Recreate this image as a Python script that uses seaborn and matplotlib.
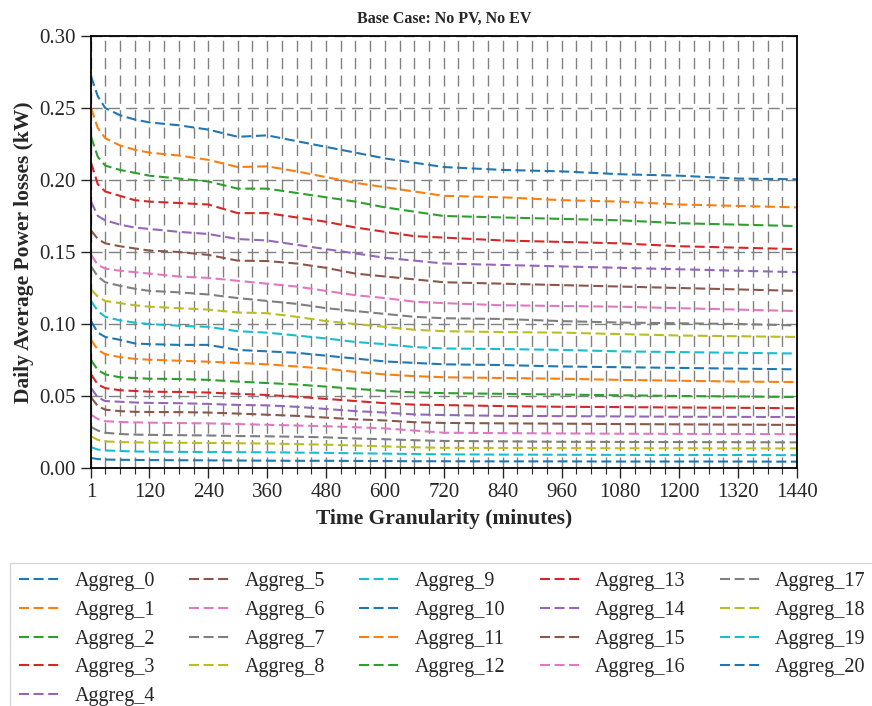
import numpy as np
import pandas as pd
import matplotlib
matplotlib.use("Agg")
import matplotlib.pyplot as plt
from matplotlib.ticker import FixedLocator
from matplotlib.lines import Line2D
import seaborn as sns

# ---- data ----
granularity = [1, 15, 30, 60, 90, 120, 180, 240, 300, 360, 420, 480, 540, 600, 660, 720,
               840, 960, 1080, 1200, 1320, 1440]

aggreg_0 = [0.272, 0.258, 0.250, 0.245, 0.242, 0.240, 0.238, 0.235, 0.230, 0.231, 0.227, 0.223,
            0.219, 0.215, 0.212, 0.209, 0.207, 0.206, 0.204, 0.203, 0.201, 0.2005]
aggreg_1 = [0.250, 0.236, 0.229, 0.224, 0.221, 0.219, 0.217, 0.214, 0.209, 0.2095, 0.206, 0.202,
            0.198, 0.195, 0.192, 0.189, 0.188, 0.186, 0.185, 0.183, 0.182, 0.181]
aggreg_2 = [0.230, 0.216, 0.210, 0.207, 0.205, 0.203, 0.201, 0.199, 0.194, 0.194, 0.191, 0.188,
            0.185, 0.181, 0.178, 0.175, 0.174, 0.173, 0.172, 0.170, 0.169, 0.168]
aggreg_3 = [0.212, 0.197, 0.192, 0.189, 0.186, 0.185, 0.184, 0.183, 0.177, 0.177, 0.174, 0.171,
            0.167, 0.164, 0.161, 0.160, 0.158, 0.157, 0.156, 0.154, 0.153, 0.152]
aggreg_4 = [0.185, 0.175, 0.172, 0.169, 0.167, 0.166, 0.164, 0.1625, 0.159, 0.158, 0.155, 0.152,
            0.149, 0.146, 0.144, 0.142, 0.141, 0.140, 0.139, 0.138, 0.137, 0.136]
aggreg_5 = [0.165, 0.159, 0.156, 0.154, 0.1525, 0.151, 0.150, 0.148, 0.144, 0.1437, 0.142, 0.139,
            0.135, 0.133, 0.131, 0.129, 0.128, 0.127, 0.126, 0.125, 0.124, 0.123]
aggreg_6 = [0.148, 0.141, 0.1385, 0.137, 0.136, 0.135, 0.133, 0.132, 0.130, 0.128, 0.126, 0.123,
            0.120, 0.118, 0.1155, 0.1145, 0.113, 0.1125, 0.112, 0.111, 0.110, 0.109]
aggreg_7 = [0.140, 0.133, 0.129, 0.1265, 0.1245, 0.123, 0.122, 0.1205, 0.118, 0.116, 0.114, 0.111,
            0.109, 0.107, 0.105, 0.104, 0.1035, 0.102, 0.101, 0.1005, 0.100, 0.099]
aggreg_8 = [0.124, 0.119, 0.116, 0.1145, 0.113, 0.112, 0.111, 0.110, 0.108, 0.1075, 0.105, 0.102,
            0.100, 0.098, 0.096, 0.095, 0.0944, 0.094, 0.093, 0.092, 0.0915, 0.091]
aggreg_9 = [0.116, 0.109, 0.105, 0.1025, 0.101, 0.100, 0.0988, 0.098, 0.095, 0.094, 0.092, 0.090,
            0.0875, 0.086, 0.084, 0.083, 0.0826, 0.082, 0.081, 0.0805, 0.080, 0.0795]
aggreg_10 = [0.102, 0.094, 0.091, 0.089, 0.0865, 0.086, 0.0855, 0.0855, 0.082, 0.081, 0.080, 0.078,
             0.076, 0.074, 0.073, 0.072, 0.0715, 0.0705, 0.070, 0.0695, 0.069, 0.0685]
aggreg_11 = [0.089, 0.082, 0.079, 0.077, 0.0758, 0.0752, 0.0745, 0.0738, 0.073, 0.072, 0.0705, 0.069,
             0.0667, 0.065, 0.0638, 0.063, 0.0625, 0.062, 0.0612, 0.0606, 0.060, 0.0597]
aggreg_12 = [0.075, 0.068, 0.065, 0.063, 0.0625, 0.062, 0.0618, 0.0612, 0.060, 0.059, 0.058, 0.0565,
             0.055, 0.0535, 0.0525, 0.052, 0.0515, 0.051, 0.0505, 0.050, 0.0497, 0.0493]
aggreg_13 = [0.065, 0.058, 0.0555, 0.054, 0.0535, 0.053, 0.0528, 0.0524, 0.0515, 0.0507, 0.0495, 0.048,
             0.0465, 0.045, 0.044, 0.0437, 0.043, 0.0425, 0.0423, 0.042, 0.0418, 0.0415]
aggreg_14 = [0.0555, 0.049, 0.0465, 0.046, 0.0455, 0.0452, 0.045, 0.0445, 0.0438, 0.0435, 0.0425, 0.041,
             0.0395, 0.0385, 0.0372, 0.0368, 0.0362, 0.036, 0.0358, 0.0356, 0.0355, 0.0354]
aggreg_15 = [0.049, 0.043, 0.0405, 0.0395, 0.039, 0.0389, 0.0388, 0.0385, 0.0378, 0.037, 0.0362, 0.035,
             0.0338, 0.033, 0.0318, 0.0313, 0.031, 0.0308, 0.0305, 0.0303, 0.0301, 0.0299]
aggreg_16 = [0.037, 0.034, 0.0325, 0.032, 0.0317, 0.0315, 0.0312, 0.031, 0.0305, 0.030, 0.0295, 0.029,
             0.0283, 0.0275, 0.026, 0.0245, 0.0242, 0.024, 0.0238, 0.0237, 0.0236, 0.0235]
aggreg_17 = [0.0285, 0.026, 0.0245, 0.0236, 0.0232, 0.023, 0.0228, 0.0226, 0.0222, 0.022, 0.0217, 0.0213,
             0.0205, 0.020, 0.0193, 0.0188, 0.0185, 0.0182, 0.0181, 0.018, 0.0179, 0.0178]
aggreg_18 = [0.022, 0.0195, 0.0185, 0.018, 0.0178, 0.0176, 0.0175, 0.0174, 0.0172, 0.017, 0.0166, 0.0162,
             0.0156, 0.015, 0.0144, 0.014, 0.0139, 0.0138, 0.0137, 0.0137, 0.0136, 0.0136]
aggreg_19 = [0.0145, 0.0128, 0.0122, 0.0118, 0.0115, 0.0113, 0.0112, 0.0111, 0.011, 0.0109, 0.0107, 0.0105,
             0.0102, 0.010, 0.0097, 0.0095, 0.0093, 0.0092, 0.0091, 0.009, 0.009, 0.0089]
aggreg_20 = [0.007, 0.0062, 0.0059, 0.0057, 0.0056, 0.0055, 0.0054, 0.0053, 0.0052, 0.0051, 0.005, 0.005,
             0.0049, 0.0048, 0.0047, 0.0047, 0.0046, 0.0046, 0.0045, 0.0045, 0.0045, 0.0044]

series = [aggreg_0, aggreg_1, aggreg_2, aggreg_3, aggreg_4, aggreg_5, aggreg_6, aggreg_7,
          aggreg_8, aggreg_9, aggreg_10, aggreg_11, aggreg_12, aggreg_13, aggreg_14, aggreg_15,
          aggreg_16, aggreg_17, aggreg_18, aggreg_19, aggreg_20]
series_names = [f"Aggreg_{i}" for i in range(len(series))]

x_major_ticks = [1, 120, 240, 360, 480, 600, 720, 840, 960, 1080, 1200, 1320, 1440]
y_ticks = [0.00, 0.05, 0.10, 0.15, 0.20, 0.25, 0.30]

rows = []
for name, vals in zip(series_names, series):
    for g, v in zip(granularity, vals):
        rows.append({"Granularity": g, "Loss": v, "Series": name})
df = pd.DataFrame(rows)

# ---- style ----
sns.set_style("ticks")
plt.rcParams["font.family"] = ["Liberation Serif", "DejaVu Serif"]

fig = plt.figure(figsize=(8.72, 7.06), dpi=100)
ax = fig.add_axes([91 / 872, 1 - 468 / 706, (797 - 91) / 872, (468 - 36) / 706])

palette = sns.color_palette("tab10", 10)
colors = [palette[i % 10] for i in range(len(series_names))]
dash = (0, (4.8, 2.2))
LW = 1.5

sns.lineplot(data=df, x="Granularity", y="Loss", hue="Series", hue_order=series_names,
             palette=colors, ax=ax, linewidth=LW, legend=False)
for line in ax.get_lines():
    line.set_linestyle(dash)

ax.set_xlim(1, 1440)
ax.set_ylim(0, 0.30)
ax.xaxis.set_major_locator(FixedLocator(x_major_ticks))
ax.xaxis.set_minor_locator(FixedLocator([m for m in range(30, 1440, 30) if m not in x_major_ticks]))
ax.set_yticks(y_ticks)
ax.set_yticklabels([f"{t:.2f}" for t in y_ticks])
ax.tick_params(axis="both", which="major", labelsize=15, length=7, width=1, pad=4, direction="out")
ax.tick_params(axis="x", which="minor", length=4, width=0.8, direction="out")

ax.grid(True, which="major", axis="both", linestyle=(0, (8, 4.5)), color="#808080", linewidth=1.0)
ax.grid(True, which="minor", axis="x", linestyle=(0, (8, 4.5)), color="#808080", linewidth=1.0)
ax.set_axisbelow(True)

for sp in ax.spines.values():
    sp.set_visible(True)
    sp.set_color("black")
    sp.set_linewidth(1.3)

ax.set_title("Base Case: No PV, No EV", fontsize=11.5, fontweight="bold", pad=9.5)
ax.set_xlabel("Time Granularity (minutes)", fontsize=15.5, fontweight="bold", labelpad=5)
ax.set_ylabel("Daily Average Power losses (kW)", fontsize=15.5, fontweight="bold", labelpad=4)

handles = [Line2D([0], [0], color=c, linestyle=dash, linewidth=LW) for c in colors]
fig.legend(handles, series_names, loc="upper left", bbox_to_anchor=(10 / 872, 1 - 563 / 706),
           bbox_transform=fig.transFigure, ncol=5, fontsize=14.5, frameon=True,
           fancybox=False, edgecolor="#cccccc", labelspacing=0.48, columnspacing=1.7,
           handlelength=2.0, handletextpad=0.75, borderpad=0.45, borderaxespad=0)

fig.savefig("out.png", dpi=100)
